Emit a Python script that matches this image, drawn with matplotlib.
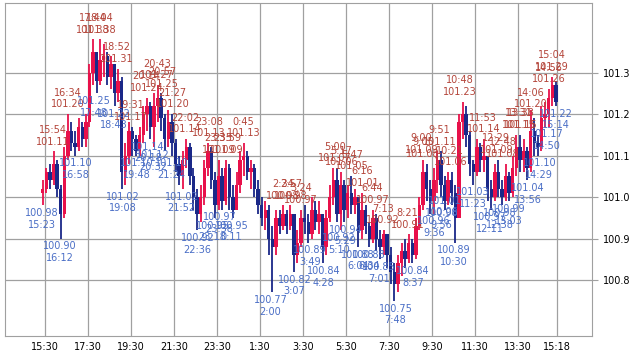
import numpy as np
import matplotlib
matplotlib.use("Agg")
import matplotlib.pyplot as plt


# bougies de 10 minutes, la premiere commence a 15:20
debut = "15:20"
ouverture0 = 101.01

# une ligne par heure (15h, 16h, ... 14h, 15h)
clotures = [
    101.02, 101.06, 101.04, 101.08,
    101.02, 100.96, 101.10, 101.16, 101.13, 101.12,
    101.17, 101.14, 101.18, 101.30, 101.35, 101.28,
    101.33, 101.34, 101.29, 101.32, 101.25, 101.28,
    101.06, 101.10, 101.16, 101.14, 101.11, 101.15,
    101.20, 101.22, 101.17, 101.22, 101.24, 101.19,
    101.14, 101.18, 101.13, 101.08, 101.05, 101.09,
    101.12, 101.05, 101.00, 100.96, 101.00, 101.07,
    101.11, 101.04, 100.98, 101.05, 100.99, 101.07,
    101.00, 100.97, 101.03, 101.09, 101.10, 101.06,
    101.07, 101.02, 100.98, 100.95, 100.97, 100.90,
    100.88, 100.95, 100.93, 100.96, 100.93, 100.96,
    100.86, 100.89, 100.95, 100.94, 100.91, 100.97,
    100.94, 100.96, 100.88, 100.95, 101.00, 101.04,
    100.96, 101.03, 100.97, 101.01, 100.98, 101.00,
    100.92, 100.97, 100.93, 100.90, 100.95, 100.90,
    100.88, 100.91, 100.86, 100.82, 100.79, 100.84,
    100.87, 100.85, 100.89, 100.86, 100.93, 100.98,
    101.06, 101.02, 100.99, 101.04, 101.09, 101.03,
    100.99, 101.04, 101.01, 100.95, 101.18, 101.20,
    101.15, 101.08, 101.06, 101.12, 101.09, 101.10,
    101.02, 101.00, 101.06, 101.02, 101.00, 101.05,
    101.01, 101.07, 101.12, 101.09, 101.11, 101.07,
    101.16, 101.13, 101.12, 101.19, 101.20, 101.24,
    101.27, 101.23,
]
plus_hauts = [
    101.04, 101.07, 101.08, 101.11,
    101.09, 101.03, 101.12, 101.20, 101.18, 101.16,
    101.19, 101.18, 101.20, 101.32, 101.38, 101.34,
    101.38, 101.37, 101.35, 101.34, 101.31, 101.31,
    101.29, 101.13, 101.18, 101.17, 101.15, 101.17,
    101.22, 101.24, 101.23, 101.25, 101.27, 101.25,
    101.20, 101.21, 101.20, 101.14, 101.10, 101.11,
    101.14, 101.13, 101.07, 101.02, 101.03, 101.09,
    101.13, 101.12, 101.06, 101.09, 101.07, 101.09,
    101.08, 101.03, 101.06, 101.11, 101.13, 101.11,
    101.09, 101.08, 101.04, 101.00, 100.99, 100.98,
    100.93, 100.97, 100.97, 100.98, 100.97, 100.98,
    100.96, 100.92, 100.97, 100.98, 100.96, 101.00,
    100.99, 100.99, 100.96, 100.97, 101.03, 101.07,
    101.07, 101.06, 101.04, 101.03, 101.05, 101.02,
    101.00, 101.01, 100.98, 100.94, 100.97, 100.96,
    100.92, 100.92, 100.91, 100.88, 100.84, 100.86,
    100.89, 100.90, 100.91, 100.90, 100.95, 101.00,
    101.09, 101.08, 101.04, 101.07, 101.11, 101.11,
    101.05, 101.06, 101.06, 101.03, 101.20, 101.23,
    101.22, 101.16, 101.09, 101.14, 101.13, 101.14,
    101.10, 101.04, 101.08, 101.09, 101.04, 101.08,
    101.06, 101.10, 101.15, 101.15, 101.14, 101.12,
    101.21, 101.19, 101.15, 101.22, 101.23, 101.26,
    101.29, 101.28,
]
plus_bas = [
    100.98, 101.01, 101.02, 101.03,
    101.00, 100.90, 100.95, 101.09, 101.11, 101.10,
    101.11, 101.12, 101.12, 101.17, 101.27, 101.25,
    101.27, 101.29, 101.27, 101.26, 101.22, 101.23,
    101.02, 101.03, 101.08, 101.10, 101.10, 101.10,
    101.13, 101.16, 101.14, 101.12, 101.18, 101.16,
    101.11, 101.12, 101.10, 101.06, 101.03, 101.02,
    101.07, 101.03, 100.97, 100.92, 100.94, 100.98,
    101.05, 101.02, 100.95, 100.97, 100.97, 100.98,
    100.97, 100.95, 100.97, 101.01, 101.05, 101.04,
    101.02, 101.00, 100.96, 100.93, 100.92, 100.86,
    100.77, 100.86, 100.91, 100.92, 100.91, 100.92,
    100.82, 100.84, 100.88, 100.91, 100.89, 100.90,
    100.92, 100.91, 100.84, 100.86, 100.94, 100.98,
    100.94, 100.92, 100.94, 100.95, 100.96, 100.96,
    100.88, 100.90, 100.91, 100.88, 100.89, 100.87,
    100.85, 100.86, 100.83, 100.79, 100.75, 100.77,
    100.81, 100.83, 100.84, 100.84, 100.85, 100.92,
    100.97, 100.99, 100.96, 100.96, 101.01, 101.00,
    100.97, 100.98, 100.98, 100.89, 100.95, 101.14,
    101.12, 101.05, 101.03, 101.05, 101.06, 101.06,
    100.99, 100.97, 100.99, 101.00, 100.98, 100.99,
    100.99, 101.00, 101.05, 101.06, 101.06, 101.04,
    101.06, 101.10, 101.10, 101.11, 101.17, 101.17,
    101.22, 101.22,
]

# etiquettes des sommets (rouge) et des creux (bleu)
sommets = [("15:54", 101.11), ("16:34", 101.20), ("17:44", 101.38), ("18:04", 101.38),
           ("18:52", 101.31), ("19:31", 101.17), ("20:14", 101.24), ("20:43", 101.27),
           ("20:57", 101.25), ("21:27", 101.20), ("22:02", 101.14), ("23:08", 101.13),
           ("23:35", 101.09), ("23:59", 101.09), ("0:45", 101.13), ("2:34", 100.98),
           ("2:57", 100.98), ("3:24", 100.97), ("5:00", 101.07), ("5:17", 101.06),
           ("5:47", 101.05), ("6:16", 101.01), ("6:44", 100.97), ("7:13", 100.92),
           ("8:21", 100.91), ("9:00", 101.09), ("9:05", 101.08), ("9:51", 101.11),
           ("10:21", 101.06), ("10:48", 101.23), ("11:53", 101.14), ("12:29", 101.09),
           ("12:48", 101.08), ("13:31", 101.15), ("13:38", 101.15), ("14:06", 101.20),
           ("14:56", 101.26), ("15:04", 101.29)]
creux = [("15:23", 100.98), ("16:12", 100.90), ("16:58", 101.10), ("17:48", 101.25),
         ("18:43", 101.22), ("19:08", 101.02), ("19:48", 101.10), ("20:18", 101.14),
         ("20:32", 101.12), ("21:24", 101.10), ("21:52", 101.02), ("22:36", 100.92),
         ("23:18", 100.95), ("23:38", 100.97), ("0:11", 100.95), ("2:00", 100.77),
         ("3:07", 100.82), ("3:49", 100.89), ("4:28", 100.84), ("5:10", 100.92),
         ("5:29", 100.94), ("6:04", 100.88), ("6:34", 100.88), ("7:01", 100.85),
         ("7:48", 100.75), ("8:37", 100.84), ("9:36", 100.96), ("9:56", 100.98),
         ("10:06", 101.01), ("10:30", 100.89), ("11:23", 101.03), ("12:11", 100.97),
         ("12:38", 100.98), ("13:03", 100.99), ("13:56", 101.04), ("14:29", 101.10),
         ("14:50", 101.17), ("15:14", 101.22)]

graduations_x = ["15:30", "17:30", "19:30", "21:30", "23:30", "1:30", "3:30",
                 "5:30", "7:30", "9:30", "11:30", "13:30", "15:18"]
graduations_y = [100.8, 100.9, 101.0, 101.1, 101.2, 101.3]

heure_debut = 15 + 20 / 60.0


def heure(s):
    # heures depuis minuit du premier jour
    h, m = s.split(":")
    v = int(h) + int(m) / 60.0
    if v < heure_debut:
        v += 24
    return v


rouge = "#e8104a"
bleu = "#1a2888"
rouge_txt = "#b4453a"
bleu_txt = "#4a6ec6"
gris = "#a0a0a0"

c = np.array(clotures)
o = np.concatenate([[ouverture0], c[:-1]])
h = np.maximum(np.array(plus_hauts), np.maximum(o, c))
l = np.minimum(np.array(plus_bas), np.minimum(o, c))
x = heure_debut + (np.arange(len(c)) * 10 + 5) / 60.0
couleurs = np.where(c >= o, rouge, bleu)

fig = plt.figure(figsize=(6.36, 3.53), dpi=100)
ax = fig.add_axes([4.5 / 636, 17 / 353, 587.5 / 636, 333 / 353])

ax.vlines(x, l, h, colors=couleurs, linewidth=1.3, zorder=3)
ax.bar(x, np.maximum(np.abs(c - o), 0.004), bottom=np.minimum(o, c),
       width=9.5 / 60.0, color=couleurs, linewidth=0, zorder=3)

for t, v in sommets:
    ax.annotate("%s\n%.2f" % (t, v), (heure(t), v), xytext=(0, 3.5),
                textcoords="offset points", ha="center", va="bottom",
                fontsize=7, color=rouge_txt, zorder=4)
for t, v in creux:
    ax.annotate("%.2f\n%s" % (v, t), (heure(t), v), xytext=(0, -2),
                textcoords="offset points", ha="center", va="top",
                fontsize=7, color=bleu_txt, zorder=4)

ax.set_xlim(13.64, 40.93)
ax.set_ylim(100.665, 101.468)
ax.set_xticks([heure(s) for s in graduations_x])
ax.set_xticklabels(graduations_x)
ax.set_yticks(graduations_y)
ax.set_yticklabels(["%.1f" % v for v in graduations_y])
ax.yaxis.tick_right()
ax.tick_params(axis="y", colors=gris, labelcolor="black", length=4, labelsize=7, pad=4)
ax.tick_params(axis="x", length=0, labelsize=7, labelcolor="black", pad=4)
ax.grid(True, color=gris, linewidth=0.9, zorder=0)
ax.set_axisbelow(True)
for s in ax.spines.values():
    s.set_color(gris)

fig.savefig("out.png", dpi=100)
